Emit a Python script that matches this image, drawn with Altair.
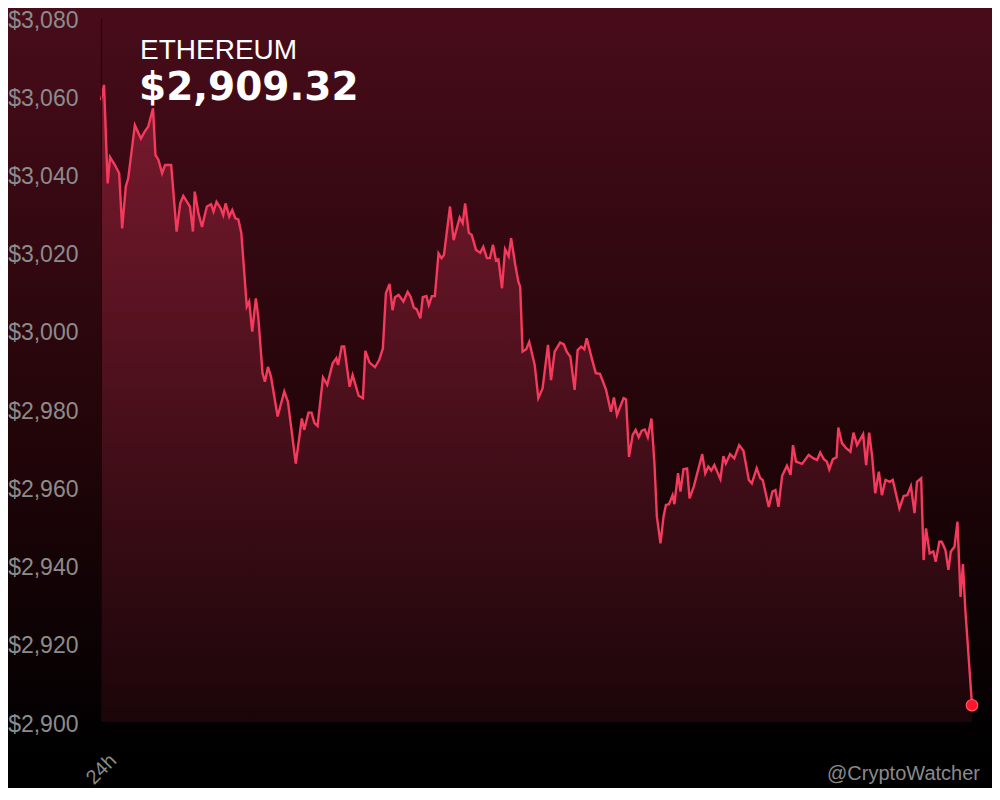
import altair as alt
import pandas as pd

# ---- data (time in minutes over 24h, price in USD) ----
minutes = [0, 5, 11, 15, 23, 30, 35, 41, 45, 56, 66, 72, 78, 86, 90, 95, 101, 106, 116, 125,
           131, 136, 147, 152, 155, 161, 167, 175, 182, 186, 191, 198, 202, 206, 212, 217, 222, 227, 232, 241,
           245, 250, 256, 260, 267, 271, 276, 281, 292, 303, 309, 322, 332, 336, 343, 348, 353, 358, 367, 374,
           383, 389, 392, 398, 402, 411, 416, 426, 433, 437, 444, 453, 460, 466, 471, 477, 482, 486, 492, 500,
           507, 512, 517, 522, 528, 532, 538, 542, 547, 552, 558, 563, 567, 577, 583, 593, 598, 602, 608, 613,
           620, 627, 632, 638, 643, 648, 653, 657, 663, 668, 674, 678, 685, 690, 693, 697, 703, 708, 717, 723,
           730, 739, 744, 750, 759, 765, 770, 776, 783, 788, 794, 799, 803, 812, 818, 825, 835, 843, 848, 853,
           864, 868, 873, 879, 884, 889, 894, 899, 904, 910, 915, 919, 925, 930, 934, 939, 945, 948, 954, 958,
           963, 969, 973, 980, 988, 994, 999, 1004, 1009, 1014, 1024, 1029, 1033, 1040, 1047, 1055, 1062, 1071, 1076, 1084,
           1090, 1094, 1104, 1110, 1115, 1120, 1126, 1134, 1140, 1144, 1149, 1159, 1170, 1178, 1184, 1189, 1195, 1200, 1204, 1210,
           1216, 1219, 1225, 1232, 1239, 1244, 1250, 1260, 1265, 1270, 1275, 1280, 1286, 1291, 1297, 1304, 1309, 1320, 1327, 1333,
           1339, 1345, 1349, 1356, 1360, 1364, 1370, 1376, 1380, 1386, 1390, 1396, 1401, 1405, 1411, 1416, 1421, 1425, 1429, 1440]
prices = [3059.0, 3062.9, 3037.7, 3044.4, 3042.4, 3040.3, 3026.2, 3036.9, 3039.0, 3052.6,
          3049.2, 3050.9, 3052.2, 3056.9, 3045.0, 3043.7, 3040.3, 3042.4, 3042.4, 3025.4,
          3032.6, 3034.5, 3031.8, 3025.4, 3035.6, 3030.1, 3026.6, 3031.8, 3032.4, 3030.5,
          3033.0, 3031.3, 3029.6, 3032.6, 3029.2, 3030.9, 3028.8, 3028.5, 3025.0, 3006.2,
          3007.5, 2999.8, 3008.3, 3003.6, 2989.2, 2987.0, 2990.8, 2988.3, 2978.1, 2984.5,
          2981.9, 2966.1, 2977.6, 2974.7, 2979.1, 2979.1, 2976.4, 2975.7, 2988.1, 2986.2,
          2991.7, 2993.0, 2991.3, 2996.0, 2996.0, 2985.7, 2988.7, 2983.4, 2982.8, 2994.9,
          2991.9, 2990.7, 2992.6, 2995.5, 3009.6, 3012.0, 3005.3, 3008.6, 3009.2, 3007.5,
          3010.0, 3008.7, 3006.0, 3005.5, 3003.2, 3008.6, 3008.9, 3006.6, 3008.9, 3008.9,
          3019.8, 3018.6, 3019.4, 3031.8, 3023.2, 3029.0, 3027.5, 3032.6, 3025.1, 3024.5,
          3020.7, 3020.0, 3021.5, 3018.6, 3018.6, 3022.0, 3018.0, 3018.3, 3010.9, 3020.9,
          3019.1, 3023.7, 3016.8, 3012.6, 3011.3, 2994.7, 2995.3, 2997.2, 2991.3, 2982.8,
          2985.3, 2996.4, 2987.4, 2994.7, 2997.0, 2996.6, 2994.7, 2993.4, 2984.9, 2995.1,
          2996.0, 2995.3, 2998.1, 2992.6, 2989.2, 2989.0, 2984.9, 2979.3, 2983.0, 2978.5,
          2982.8, 2982.5, 2967.8, 2973.4, 2974.7, 2972.8, 2974.5, 2974.8, 2972.8, 2977.6,
          2966.1, 2952.5, 2945.7, 2952.5, 2955.5, 2955.7, 2958.0, 2955.7, 2963.6, 2958.9,
          2964.6, 2964.8, 2957.2, 2960.2, 2964.9, 2968.5, 2963.6, 2965.3, 2964.3, 2965.7,
          2962.1, 2968.0, 2966.1, 2968.5, 2967.4, 2970.8, 2969.4, 2961.9, 2961.0, 2964.9,
          2962.3, 2961.9, 2955.0, 2958.9, 2959.3, 2955.0, 2962.9, 2965.5, 2963.2, 2970.8,
          2966.6, 2966.0, 2968.3, 2967.4, 2967.0, 2968.9, 2967.2, 2966.6, 2964.6, 2967.2,
          2967.7, 2975.3, 2971.3, 2970.0, 2969.1, 2974.0, 2970.8, 2973.6, 2965.7, 2974.0,
          2967.8, 2958.5, 2964.0, 2958.0, 2961.9, 2961.4, 2961.9, 2954.6, 2957.8, 2958.0,
          2960.3, 2953.4, 2961.4, 2962.3, 2941.4, 2949.5, 2943.1, 2943.6, 2941.0, 2946.1,
          2946.1, 2944.0, 2938.9, 2943.6, 2944.8, 2951.2, 2932.0, 2940.4, 2928.6, 2904.3]
y_ticks = [2900, 2920, 2940, 2960, 2980, 3000, 3020, 3040, 3060, 3080]
x_ticks = [0]
x_tick_label = "24h"
coin_name = "ETHEREUM"
price_label = "$2,909.32"
watermark = "@CryptoWatcher"

df = pd.DataFrame({"t": minutes, "price": prices})
last = df.iloc[[-1]]

W, H = 871, 704
PL, PT, PR, PB = 93, 10, 20, 66

x_scale = alt.Scale(domain=[0, 1440], nice=False, zero=False)
y_scale = alt.Scale(domain=[2900, 3080], nice=False, zero=False)

bg_grad = {"gradient": "linear", "x1": 0, "y1": 0, "x2": 0, "y2": 1,
           "stops": [{"offset": 0, "color": "#480c1a"},
                     {"offset": 0.55, "color": "#220509"},
                     {"offset": 0.93, "color": "#020001"},
                     {"offset": 1, "color": "#000000"}]}
area_grad = {"gradient": "linear", "x1": 0, "y1": 0, "x2": 0, "y2": 1,
             "stops": [{"offset": 0, "color": "#7a1a2e"},
                       {"offset": 1, "color": "#1b0509"}]}

one = alt.Data(values=[{"k": 1}])

bg = alt.Chart(one).mark_rect(fill=bg_grad).encode(
    x=alt.value(-PL), x2=alt.value(W + PR), y=alt.value(-PT), y2=alt.value(H + PB)
)

x_enc = alt.X("t:Q", scale=x_scale, axis=alt.Axis(
    values=x_ticks, labelExpr=f"'{x_tick_label}'", labelAngle=315, labelAlign="center",
    labelBaseline="middle", labelPadding=47, tickSize=0, ticks=False, domain=False,
    grid=False, title=None, labelFlush=False, labelColor="#8a8a8a",
    labelFontSize=20, labelFont="Liberation Sans", zindex=2))
y_enc = alt.Y("price:Q", scale=y_scale, axis=alt.Axis(
    values=y_ticks, format="$,.0f", labelPadding=23, tickSize=0, ticks=False,
    domain=True, domainColor="#16040a", domainWidth=1, grid=False, title=None,
    labelColor="#8c8c8c", labelFontSize=23, labelFont="Liberation Sans",
    labelBaseline="middle", labelOffset=2, labelFlush=False, labelBound=False, zindex=2))

area = alt.Chart(df).mark_area(fill=area_grad, line=False).encode(
    x=x_enc, y=y_enc, y2=alt.datum(2900)
)
line = alt.Chart(df).mark_line(color="#f43a5d", strokeWidth=2.4).encode(
    x=alt.X("t:Q", scale=x_scale), y=alt.Y("price:Q", scale=y_scale)
)
dot = alt.Chart(last).mark_circle(size=130, fill="#ff1429", stroke="#ff5a6a",
                                  strokeWidth=1.2, opacity=1).encode(
    x=alt.X("t:Q", scale=x_scale), y=alt.Y("price:Q", scale=y_scale)
)

name_txt = alt.Chart(alt.Data(values=[{"s": coin_name}])).mark_text(
    align="left", baseline="alphabetic", font="Liberation Sans", fontSize=28, color="#ffffff"
).encode(x=alt.value(39), y=alt.value(41), text="s:N")
price_txt = alt.Chart(alt.Data(values=[{"s": price_label}])).mark_text(
    align="left", baseline="alphabetic", font="DejaVu Sans", fontWeight="bold", fontSize=39,
    color="#ffffff"
).encode(x=alt.value(38), y=alt.value(82), text="s:N")
wm_txt = alt.Chart(alt.Data(values=[{"s": watermark}])).mark_text(
    align="right", baseline="alphabetic", font="Liberation Sans", fontSize=20, color="#8a8a8a"
).encode(x=alt.value(879), y=alt.value(762), text="s:N")

chart = alt.layer(bg, area, line, dot, name_txt, price_txt, wm_txt).properties(
    width=W, height=H,
    padding={"left": PL, "top": PT, "right": PR, "bottom": PB},
    autosize=alt.AutoSizeParams(type="none"),
    background="#000000",
).configure_view(strokeWidth=0)

chart.save("out.html", embed_options={"renderer": "svg", "actions": False})
